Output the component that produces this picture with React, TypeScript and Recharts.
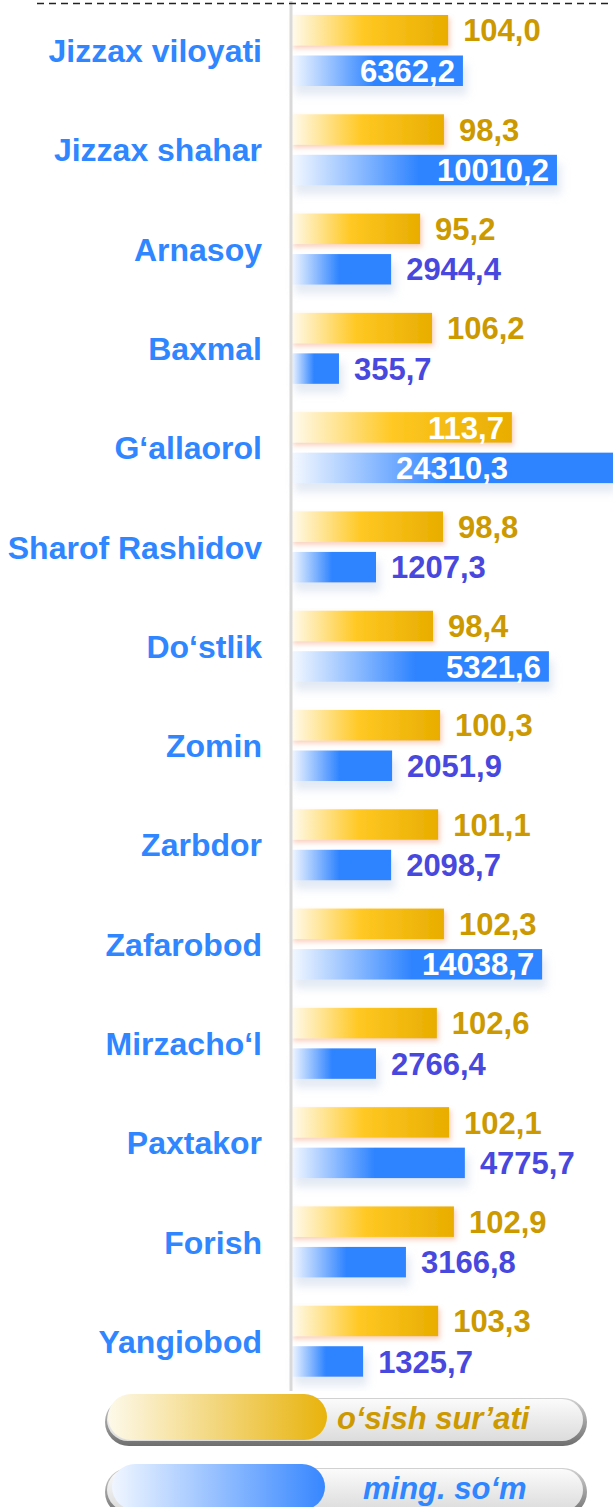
import React from 'react';
import { BarChart, Bar, XAxis, YAxis, LabelList } from 'recharts';

const regions = [
  'Jizzax viloyati', 'Jizzax shahar', 'Arnasoy', 'Baxmal', 'G‘allaorol', 'Sharof Rashidov', 'Do‘stlik',
  'Zomin', 'Zarbdor', 'Zafarobod', 'Mirzacho‘l', 'Paxtakor', 'Forish', 'Yangiobod',
];

// o'sish sur'ati, %
const growthRate = [104.0, 98.3, 95.2, 106.2, 113.7, 98.8, 98.4, 100.3, 101.1, 102.3, 102.6, 102.1, 102.9, 103.3];
// ming so'm
const amount = [6362.2, 10010.2, 2944.4, 355.7, 24310.3, 1207.3, 5321.6, 2051.9, 2098.7, 14038.7, 2766.4, 4775.7, 3166.8, 1325.7];

// bars in the source are not to scale, so lengths are read off the picture (longest bar = 100)
const growthBar = [48.8, 47.5, 40.1, 43.8, 68.6, 47.2, 44.1, 46.3, 45.7, 47.5, 45.3, 49.1, 50.6, 45.7];
const amountBar = [53.4, 82.6, 31.1, 14.9, 100, 26.4, 80.1, 31.4, 31.1, 78.0, 26.4, 54.0, 35.7, 22.4];

// rows whose value sits in white inside the bar
const growthInside = ['G‘allaorol'];
const amountInside = ['Jizzax viloyati', 'Jizzax shahar', 'G‘allaorol', 'Do‘stlik', 'Zafarobod'];

const legendNames = ['o‘sish sur’ati', 'ming. so‘m'];

const FONT = '"Liberation Sans", Arial, sans-serif';
const GOLD = '#cc9900';
const BLUE = '#2f86ff';
const VIOLET = '#4848de';

const data = regions.map((name, i) => ({
  name,
  growthBar: growthBar[i],
  amountBar: amountBar[i],
}));

const fmt = (v: number) => v.toFixed(1).replace('.', ',');

function valueLabel(values: number[], insideRows: string[], outColor: string) {
  return (props: any) => {
    const { x, y, width, height, index } = props;
    const inside = insideRows.includes(regions[index]);
    const end = x + width;
    let tx = end + 15;
    let anchor = 'start';
    if (inside) {
      if (width > 318) {
        tx = x + width / 2;
        anchor = 'middle';
      } else {
        tx = end - 8;
        anchor = 'end';
      }
    }
    return (
      <text
        x={tx}
        y={y + height / 2}
        dy="0.36em"
        textAnchor={anchor}
        fill={inside ? '#ffffff' : outColor}
        fontSize={31}
        fontWeight="bold"
        fontFamily={FONT}
      >
        {fmt(values[index])}
      </text>
    );
  };
}

function barShape(grad: string, shadow: string) {
  return (props: any) => (
    <rect
      x={props.x}
      y={props.y}
      width={Math.max(0, props.width)}
      height={props.height}
      fill={`url(#${grad})`}
      filter={`url(#${shadow})`}
    />
  );
}

function RegionTick(props: any) {
  const { x, y, payload } = props;
  return (
    <text x={x} y={y} dy="0.36em" textAnchor="end" fill={BLUE} fontSize={32} fontWeight="bold" fontFamily={FONT}>
      {payload.value}
    </text>
  );
}

function LegendPill({ y, innerX, innerW, grad, text, textX, color }: any) {
  return (
    <g>
      <rect x={105} y={y + 4} width={482} height={48} rx={24} fill="url(#pillRim)" />
      <rect x={107} y={y + 5} width={476} height={42} rx={21} fill="url(#pillFace)" />
      <rect x={innerX} y={y} width={innerW} height={46} rx={23} fill={`url(#${grad})`} />
      <text x={textX} y={y + 24} dy="0.36em" fill={color} fontSize={31} fontWeight="bold" fontStyle="italic" fontFamily={FONT}>
        {text}
      </text>
    </g>
  );
}

export default function App() {
  return (
    <div style={{ position: 'absolute', left: 0, top: 0, width: 613, height: 1507, background: '#fff', overflow: 'hidden' }}>
      <BarChart
        width={613}
        height={1391}
        data={data}
        layout="vertical"
        margin={{ top: 1, right: 0, bottom: 0, left: 0 }}
        barSize={30.5}
        barGap={10}
      >
        <defs>
          <linearGradient id="gradGold" x1="0" y1="0" x2="1" y2="0">
            <stop offset="0%" stopColor="#fffbef" />
            <stop offset="46%" stopColor="#ffc823" />
            <stop offset="100%" stopColor="#e8ad00" />
          </linearGradient>
          <linearGradient id="gradBlue" x1="0" y1="0" x2="1" y2="0">
            <stop offset="0%" stopColor="#f5f9ff" />
            <stop offset="48%" stopColor="#2f84ff" />
            <stop offset="100%" stopColor="#2f84ff" />
          </linearGradient>
          <filter id="shGold" x="-10%" y="-30%" width="125%" height="175%">
            <feDropShadow dx="2" dy="3" stdDeviation="2.5" floodColor="#f08a60" floodOpacity="0.4" />
          </filter>
          <filter id="shBlue" x="-10%" y="-20%" width="130%" height="210%">
            <feDropShadow dx="4" dy="9" stdDeviation="4" floodColor="#b9c9e2" floodOpacity="0.4" />
          </filter>
        </defs>
        <XAxis type="number" domain={[0, 100]} hide />
        <YAxis
          type="category"
          dataKey="name"
          width={291}
          tickSize={0}
          tickMargin={29}
          tickLine={false}
          axisLine={{ stroke: '#d9d9d9', strokeWidth: 3 }}
          tick={<RegionTick />}
          interval={0}
        />
        <Bar dataKey="growthBar" isAnimationActive={false} shape={barShape('gradGold', 'shGold')}>
          <LabelList dataKey="growthBar" content={valueLabel(growthRate, growthInside, GOLD)} />
        </Bar>
        <Bar dataKey="amountBar" isAnimationActive={false} shape={barShape('gradBlue', 'shBlue')}>
          <LabelList dataKey="amountBar" content={valueLabel(amount, amountInside, VIOLET)} />
        </Bar>
      </BarChart>

      <svg width={613} height={1507} style={{ position: 'absolute', left: 0, top: 0, pointerEvents: 'none' }}>
        <defs>
          <linearGradient id="pillRim" x1="0" y1="0" x2="0" y2="1">
            <stop offset="0%" stopColor="#d2d2d2" />
            <stop offset="100%" stopColor="#6e6e6e" />
          </linearGradient>
          <linearGradient id="pillFace" x1="0" y1="0" x2="0" y2="1">
            <stop offset="0%" stopColor="#fbfbfb" />
            <stop offset="60%" stopColor="#e8e8e8" />
            <stop offset="100%" stopColor="#dcdcdc" />
          </linearGradient>
          <linearGradient id="legGold" x1="0" y1="0" x2="1" y2="0">
            <stop offset="0%" stopColor="#fdf9ea" />
            <stop offset="100%" stopColor="#e8b30c" />
          </linearGradient>
          <linearGradient id="legBlue" x1="0" y1="0" x2="1" y2="0">
            <stop offset="0%" stopColor="#f0f6ff" />
            <stop offset="100%" stopColor="#3787ff" />
          </linearGradient>
        </defs>
        <line x1={37} y1={3.5} x2={613} y2={3.5} stroke="#222" strokeWidth={1.5} strokeDasharray="7 5" />
        <LegendPill y={1394} innerX={108} innerW={219} grad="legGold" text={legendNames[0]} textX={337} color={GOLD} />
        <LegendPill y={1464} innerX={112} innerW={213} grad="legBlue" text={legendNames[1]} textX={363} color={BLUE} />
      </svg>
    </div>
  );
}
